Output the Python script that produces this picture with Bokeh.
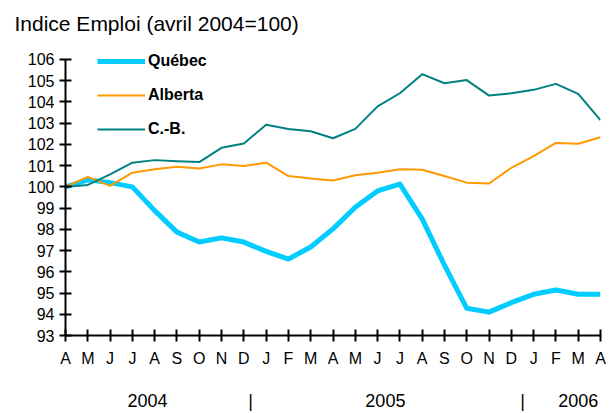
from bokeh.plotting import figure
from bokeh.models import (Range1d, FixedTicker, LinearAxis, Legend, LegendItem, ColumnDataSource)
from bokeh.embed import file_html
from bokeh.resources import INLINE

months = ["A", "M", "J", "J", "A", "S", "O", "N", "D", "J", "F", "M",
          "A", "M", "J", "J", "A", "S", "O", "N", "D", "J", "F", "M", "A"]
quebec = [100.0, 100.33, 100.2, 100.0, 98.88, 97.87, 97.4, 97.6, 97.4, 96.96, 96.6, 97.17,
          98.02, 99.04, 99.81, 100.13, 98.49, 96.31, 94.28, 94.1, 94.55, 94.94, 95.14, 94.94, 94.94]
alberta = [100.0, 100.47, 100.05, 100.67, 100.83, 100.95, 100.87, 101.06, 100.98, 101.14, 100.51, 100.39,
           100.3, 100.55, 100.67, 100.83, 100.81, 100.51, 100.2, 100.16, 100.9, 101.45, 102.07, 102.03, 102.34]
cb = [100.0, 100.09, 100.59, 101.14, 101.26, 101.21, 101.17, 101.84, 102.04, 102.93, 102.73, 102.62,
      102.29, 102.73, 103.79, 104.41, 105.31, 104.88, 105.03, 104.3, 104.41, 104.57, 104.85, 104.38, 103.14]
year_labels = ["2004", "|", "2005", "|", "2006"]
year_pos = [3.68, 8.3, 14.35, 20.5, 23.0]
y_ticks = list(range(93, 107))
series_names = ["Québec", "Alberta", "C.-B."]

FONT = "Liberation Sans"
idx = list(range(len(months)))
src = ColumnDataSource(dict(x=idx, q=quebec, a=alberta, c=cb))

p = figure(width=608, height=413, output_backend="svg", toolbar_location=None,
           x_range=Range1d(0, len(months) - 1), y_range=Range1d(93, 106.8),
           min_border_left=65, min_border_right=8, min_border_top=42, min_border_bottom=76,
           background_fill_color="white", border_fill_color="white")
p.outline_line_color = None
p.grid.visible = False

p.title.text = "Indice Emploi (avril 2004=100)"
p.title.align = "left"
p.title.offset = -51
p.title.standoff = 16
p.title.text_font = FONT
p.title.text_font_size = "21px"
p.title.text_font_style = "normal"
p.title.text_color = "black"

rq = p.line("x", "q", source=src, line_color="#00CCFF", line_width=5, line_join="round")
ra = p.line("x", "a", source=src, line_color="#FF9900", line_width=2, line_join="round")
rc = p.line("x", "c", source=src, line_color="#008080", line_width=2, line_join="round")

# y axis
ya = p.yaxis[0]
ya.ticker = FixedTicker(ticks=y_ticks)
ya.bounds = (93, 106)
ya.major_tick_in = 6
ya.major_tick_out = 6
ya.minor_tick_line_color = None
ya.axis_line_width = 2
ya.major_tick_line_width = 2
ya.major_label_standoff = 5
ya.major_label_text_font = FONT
ya.major_label_text_font_size = "16px"
ya.major_label_text_color = "black"

# x axis (months)
xa = p.xaxis[0]
xa.ticker = FixedTicker(ticks=idx)
xa.major_label_overrides = {i: m for i, m in zip(idx, months)}
xa.major_tick_in = 6
xa.major_tick_out = 6
xa.minor_tick_line_color = None
xa.axis_line_width = 2
xa.major_tick_line_width = 2
xa.major_label_standoff = 8
xa.major_label_text_font = FONT
xa.major_label_text_font_size = "16px"
xa.major_label_text_color = "black"

# year axis
yr = LinearAxis(ticker=FixedTicker(ticks=year_pos),
                major_label_overrides={v: t for v, t in zip(year_pos, year_labels)})
yr.axis_line_color = None
yr.major_tick_line_color = None
yr.minor_tick_line_color = None
yr.major_tick_in = 0
yr.major_tick_out = 0
yr.major_label_standoff = 21
yr.major_label_text_font = FONT
yr.major_label_text_font_size = "18px"
yr.major_label_text_color = "black"
p.add_layout(yr, "below")

legend = Legend(items=[LegendItem(label=series_names[0], renderers=[rq]),
                       LegendItem(label=series_names[1], renderers=[ra]),
                       LegendItem(label=series_names[2], renderers=[rc])],
                location=(32, 196))
legend.padding = 0
legend.margin = 0
legend.spacing = 14
legend.glyph_width = 48
legend.glyph_height = 20
legend.label_height = 20
legend.label_standoff = 3
legend.border_line_color = None
legend.background_fill_alpha = 0
legend.label_text_font = FONT
legend.label_text_font_size = "16px"
legend.label_text_font_style = "bold"
legend.label_text_color = "black"
p.add_layout(legend, "center")

open("out.html", "w").write(file_html(p, INLINE))
